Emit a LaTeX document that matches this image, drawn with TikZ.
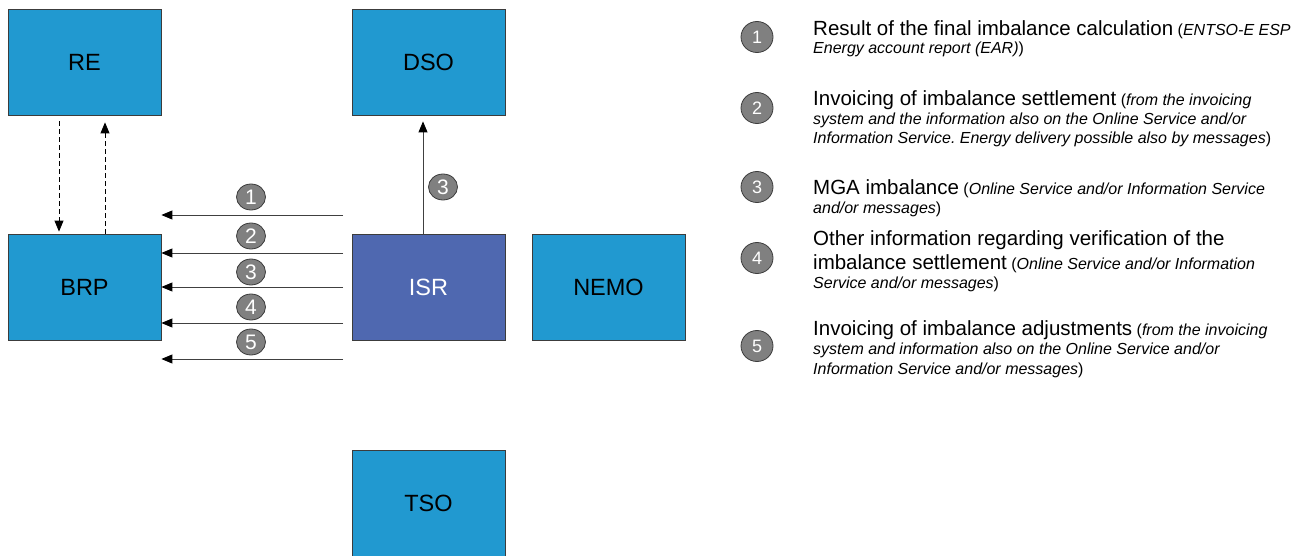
\documentclass[tikz,border=0pt]{standalone}
\usepackage{fontspec}
\setmainfont{Liberation Sans}
\usetikzlibrary{arrows.meta,shapes.geometric}
\definecolor{boxblue}{RGB}{33,153,208}
\definecolor{isrblue}{RGB}{79,104,176}
\definecolor{numgray}{RGB}{128,128,128}
\definecolor{edgegray}{RGB}{60,60,60}
\newcommand\mainfs{\fontsize{20.5}{24}\selectfont}
\newcommand\smfs{\fontsize{16}{19}\selectfont}
\frenchspacing
\begin{document}
\begin{tikzpicture}[x=1pt,y=-1pt,
  box/.style={draw=edgegray, line width=0.8pt, fill=boxblue, minimum width=153pt, minimum height=106pt, inner sep=0pt, font=\fontsize{23.5}{27}\selectfont},
  num/.style={ellipse, draw=edgegray, line width=0.8pt, fill=numgray, text=white, minimum width=29pt, minimum height=26pt, inner sep=0pt, font=\fontsize{21}{21}\selectfont},
  lnum/.style={ellipse, draw=edgegray, line width=0.8pt, fill=numgray, text=white, minimum width=32pt, minimum height=31pt, inner sep=0pt, font=\fontsize{18}{18}\selectfont},
  arr/.style={draw=black!75, line width=0.9pt, -{Triangle[length=11pt,width=9pt,color=black]}},
  darr/.style={draw=black, line width=0.8pt, dash pattern=on 5pt off 3pt, -{Triangle[length=11pt,width=9pt]}},
  ltxt/.style={anchor=base west, inner sep=0pt, font=\smfs}
]
\useasboundingbox (0,0) rectangle (1303,556);

% boxes
\node[box] (RE) at (84.5,62) {RE};
\node[box] (DSO) at (428.5,62) {DSO};
\node[box] (BRP) at (84.5,287) {BRP};
\node[box, fill=isrblue, text=white] (ISR) at (428.5,287) {ISR};
\node[box] (NEMO) at (608.5,287) {NEMO};
\node[box] (TSO) at (428.5,503.5) {TSO};

% dashed RE <-> BRP
\draw[darr, shorten <=6pt, shorten >=2pt] ([xshift=-25.5pt]RE.south) -- ([xshift=-25.5pt]BRP.north);
\draw[darr, shorten <=0pt, shorten >=7pt] ([xshift=20.5pt]BRP.north) -- ([xshift=20.5pt]RE.south);

% ISR -> DSO
\draw[arr, shorten >=6pt] ([xshift=-5.5pt]ISR.north) -- ([xshift=-5.5pt]DSO.south);
\node[num] (n3d) at (443,187) {3};

% ISR -> BRP flows
\coordinate (s1) at (343,215);
\coordinate (s2) at (343,253);
\coordinate (s3) at (343,287);
\coordinate (s4) at (343,323);
\coordinate (s5) at (343,359);
\draw[arr] (s1) -- (s1 -| BRP.east);
\draw[arr] (s2) -- (s2 -| BRP.east);
\draw[arr] (s3) -- (s3 -| BRP.east);
\draw[arr] (s4) -- (s4 -| BRP.east);
\draw[arr] (s5) -- (s5 -| BRP.east);
\node[num] (n1) at (251,197) {1};
\node[num] (n2) at (251,236) {2};
\node[num] (n3) at (251,272) {3};
\node[num] (n4) at (251,307) {4};
\node[num] (n5) at (251,342) {5};

% legend
\node[lnum] (L1) at (757,37) {1};
\node[lnum] (L2) at (757,108) {2};
\node[lnum] (L3) at (757,187) {3};
\node[lnum] (L4) at (757,258) {4};
\node[lnum] (L5) at (757,346) {5};

\node[ltxt] (T1a) at (813,36) {{\mainfs Result of the final imbalance calculation} (\textit{ENTSO-E ESP}};
\node[ltxt] (T1b) at (813,54) {\textit{Energy account report (EAR)})};

\node[ltxt] (T2a) at (813,106) {{\mainfs Invoicing of imbalance settlement} (\textit{from the invoicing}};
\node[ltxt] (T2b) at (813,125) {\textit{system and the information also on the Online Service and/or}};
\node[ltxt] (T2c) at (813,144) {\textit{Information Service. Energy delivery possible also by messages})};

\node[ltxt] (T3a) at (813,194) {{\mainfs MGA imbalance} (\textit{Online Service and/or Information Service}};
\node[ltxt] (T3b) at (813,213) {\textit{and/or messages})};

\node[ltxt] (T4a) at (813,245) {{\mainfs Other information regarding verification of the}};
\node[ltxt] (T4b) at (813,269) {{\mainfs imbalance settlement} (\textit{Online Service and/or Information}};
\node[ltxt] (T4c) at (813,288) {\textit{Service and/or messages})};

\node[ltxt] (T5a) at (813,335) {{\mainfs Invoicing of imbalance adjustments} (\textit{from the invoicing}};
\node[ltxt] (T5b) at (813,354) {\textit{system and information also on the Online Service and/or}};
\node[ltxt] (T5c) at (813,374) {\textit{Information Service and/or messages})};
\end{tikzpicture}
\end{document}
